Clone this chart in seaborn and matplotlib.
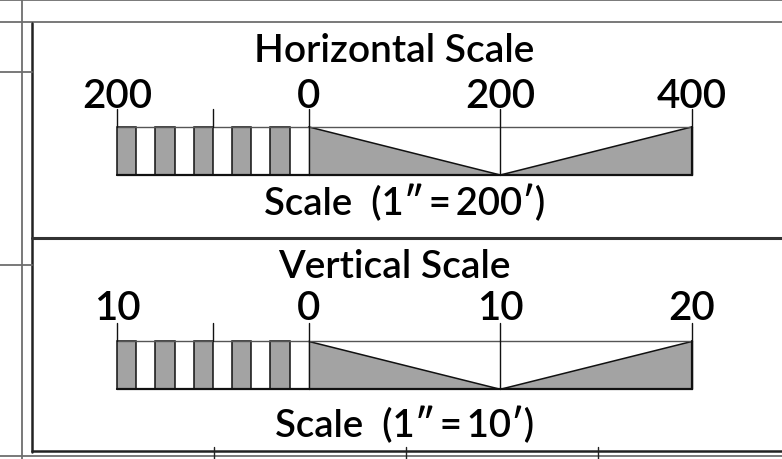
import numpy as np
import matplotlib
matplotlib.use("Agg")
import matplotlib.pyplot as plt
import seaborn as sns

# scale data (in feet)
h_ticks = [-200, 0, 200, 400]
h_labels = ["200", "0", "200", "400"]
h_title = "Horizontal Scale"
h_note = "Scale  (1\u2033\u2009=\u2009200\u2032)"

v_ticks = [-10, 0, 10, 20]
v_labels = ["10", "0", "10", "20"]
v_title = "Vertical Scale"
v_note = "Scale  (1\u2033\u2009=\u200910\u2032)"

n_div = 10  # alternating blocks left of zero

sns.set_theme(style="white")
plt.rcParams['font.family'] = ['Lato', 'DejaVu Sans']

W, H = 782, 460
fig = plt.figure(figsize=(W / 100, H / 100), dpi=100)

# frame lines, drawn in pixel space
bg = fig.add_axes([0, 0, 1, 1])
bg.set_xlim(0, W)
bg.set_ylim(H, 0)
bg.axis("off")
gray_line = dict(color="#6e6e6e", lw=1.3)
dark_line = dict(color="#222222", lw=1.8)
bg.plot([0, W], [1, 1], **gray_line)
bg.plot([0, W], [23, 23], **gray_line)
bg.plot([22, 22], [0, H], **gray_line)
bg.plot([32, 32], [24, 453], **dark_line)
bg.plot([0, 32], [73, 73], **gray_line)
bg.plot([0, 32], [266, 266], **gray_line)
bg.plot([32, W], [239, 239], color="#333333", lw=2.2)
bg.plot([32, W], [452, 452], **dark_line)
bg.plot([0, W], [457, 457], **gray_line)
for xt in [214, 406, 598]:
    bg.plot([xt, xt], [448, H], color="#222222", lw=1)

GRAY = "#a3a3a3"
BAR_L, BAR_R = 117, 692   # px of scale ends
AX_L, AX_R = 32, W
TXT = dict(color="black", fontweight=600)


def draw_scale(rect, ticks, labels, title, note, ypos):
    ax = fig.add_axes(rect)
    lo, mid, hi = ticks[0], ticks[2], ticks[3]
    k = (BAR_R - BAR_L) / (hi - lo)
    ax.set_xlim(lo - (BAR_L - AX_L) / k, hi + (AX_R - BAR_R) / k)
    ax.set_ylim(-1.31, 3.16)
    ax.axis("off")

    edges = np.linspace(lo, 0, n_div + 1)
    step = edges[1] - edges[0]
    ax.bar(edges[:-1:2], 1, width=step, align="edge",
           color=GRAY, edgecolor="#111111", lw=1.1, zorder=2)

    ax.fill([0, mid, 0], [1, 0, 0], color=GRAY, lw=0, zorder=1)
    ax.fill([mid, hi, hi], [0, 1, 0], color=GRAY, lw=0, zorder=1)
    sns.lineplot(x=[0, mid, hi], y=[1, 0, 1], sort=False, ax=ax,
                 color="#111111", lw=1.1, zorder=3)
    ax.plot([lo, hi], [1, 1], color="#555555", lw=1, zorder=3)
    ax.plot([lo, hi], [0, 0], color="#111111", lw=1.6, zorder=3)
    ax.plot([hi, hi], [0, 1], color="#111111", lw=1.6, zorder=3)

    tick_top = 1.375
    for t in ticks + [lo / 2]:
        y0 = 0 if t >= 0 else 1
        ax.plot([t, t], [y0, tick_top], color="#111111", lw=1, zorder=3)

    for t, lab in zip(ticks, labels):
        ax.text(t, ypos[1], lab, ha="center", va="baseline", fontsize=29,
                **TXT)
    ax.text((lo + hi) / 2 - 10 / k, ypos[0], title, ha="center",
            va="baseline", fontsize=28, **TXT)
    ax.text((lo + hi) / 2, ypos[2], note, ha="center", va="baseline",
            fontsize=27.5, **TXT)


draw_scale([AX_L / W, (H - 239) / H, (AX_R - AX_L) / W, 215 / H],
           h_ticks, h_labels, h_title, h_note, (2.375, 1.42, -0.81))
draw_scale([AX_L / W, (H - 453) / H, (AX_R - AX_L) / W, 214 / H],
           v_ticks, v_labels, v_title, v_note, (2.35, 1.46, -0.98))

fig.savefig("out.png", dpi=100)
